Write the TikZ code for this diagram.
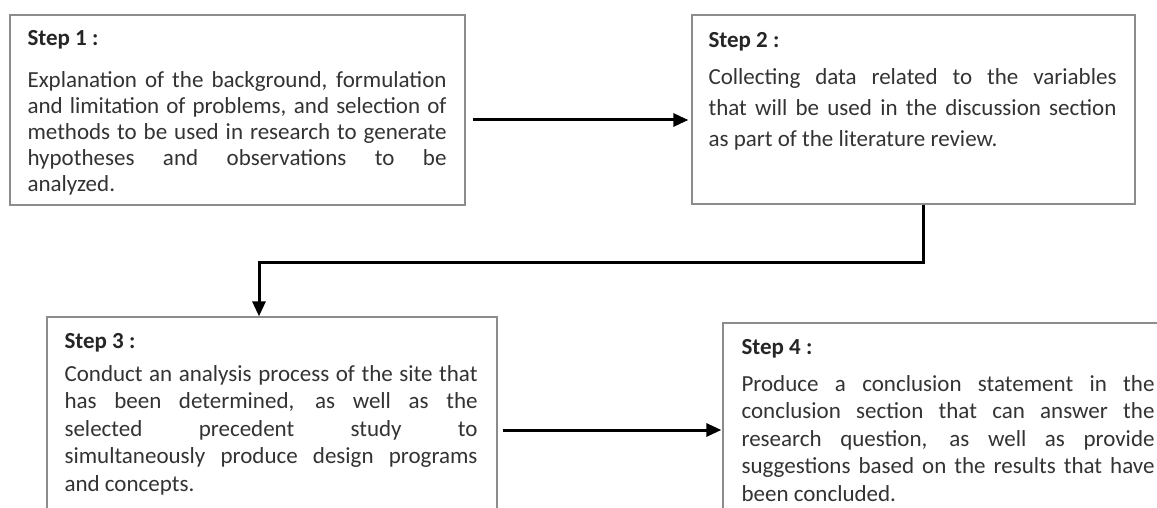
\documentclass[tikz,border=0pt]{standalone}
\usepackage{fontspec}
\setmainfont{Carlito}
\usetikzlibrary{arrows.meta,shadows}

\begin{document}
\begin{tikzpicture}[x=1pt,y=-1pt,
  stepbox/.style={draw=black!45,line width=1.3pt,fill=white,inner sep=0pt,
    drop shadow={shadow xshift=1.2pt,shadow yshift=-1.2pt,fill=black!70,opacity=0.7}},
  head/.style={anchor=base west,inner sep=0pt,text=black!85,font=\fontsize{23}{26}\selectfont\bfseries},
  body/.style={anchor=base west,inner sep=0pt,text=black!80,align=justify,font=\fontsize{23}{#1}\selectfont},
  flow/.style={line width=3pt,-{Triangle[length=15pt,width=13pt]}}]
\clip (0,0) rectangle (1157,508);

% boxes
\node (s1) [stepbox,minimum width=455pt,minimum height=190pt] at (237.5,110) {};
\node (s2) [stepbox,minimum width=443pt,minimum height=189pt] at (913.5,109.5) {};
\node (s3) [stepbox,minimum width=450pt,minimum height=223pt] at (272,428.5) {};
\node (s4) [stepbox,minimum width=457pt,minimum height=217pt] at (951.5,431.5) {};

% texts
\node (h1) [head] at ([xshift=18pt,yshift=-31pt]s1.north west) {Step 1 :};
\node (b1) [body=26pt,text width=419pt] at ([yshift=-42pt]h1.base west)
  {Explanation of the background, formulation\linebreak
   and limitation of problems, and selection of\linebreak
   methods to be used in research to generate\linebreak
   hypotheses and observations to be\linebreak
   analyzed.};
\node (h2) [head] at ([xshift=17pt,yshift=-33pt]s2.north west) {Step 2 :};
\node (b2) [body=31pt,text width=408pt] at ([yshift=-37pt]h2.base west)
  {Collecting data related to the variables\linebreak
   that will be used in the discussion section\linebreak
   as part of the literature review.};
\node (h3) [head] at ([xshift=18pt,yshift=-32pt]s3.north west) {Step 3 :};
\node (b3) [body=27.5pt,text width=413pt] at ([yshift=-33pt]h3.base west)
  {Conduct an analysis process of the site that\linebreak
   has been determined, as well as the\linebreak
   selected precedent study to\linebreak
   simultaneously produce design programs\linebreak
   and concepts.};
\node (h4) [head] at ([xshift=19pt,yshift=-32pt]s4.north west) {Step 4 :};
\node (b4) [body=27.5pt,text width=413pt] at ([yshift=-37pt]h4.base west)
  {Produce a conclusion statement in the\linebreak
   conclusion section that can answer the\linebreak
   research question, as well as provide\linebreak
   suggestions based on the results that have\linebreak
   been concluded.};

% connectors
\coordinate (a1) at ([xshift=7pt,yshift=-10pt]s1.east);
\draw [flow,shorten >=3pt] (a1) -- (a1 -| s2.west);
\coordinate (a2) at ([xshift=9.5pt]s2.south);
\coordinate (a3) at ([xshift=-13pt]s3.north);
\draw [flow] (a2) -- ++(0,58) -| (a3);
\coordinate (a4) at ([xshift=5pt,yshift=-1.5pt]s3.east);
\draw [flow,shorten >=1pt] (a4) -- (a4 -| s4.west);
\end{tikzpicture}
\end{document}
